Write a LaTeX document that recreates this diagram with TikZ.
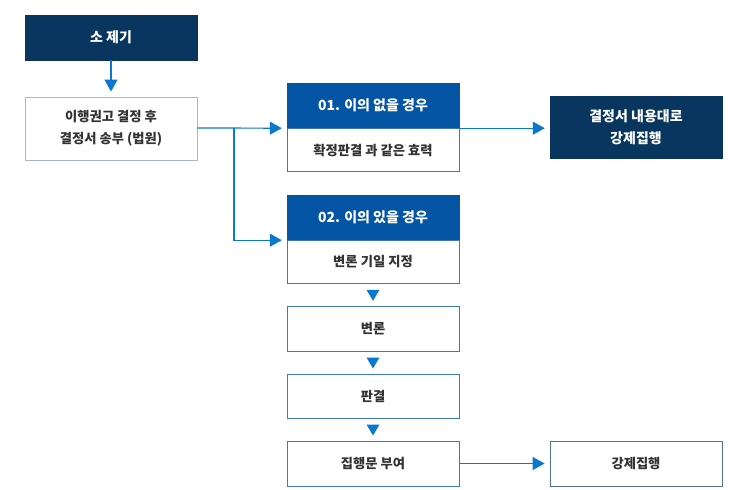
\documentclass[tikz,border=0pt]{standalone}
\usepackage{fontspec}
\setmainfont{Noto Sans CJK KR}
\usetikzlibrary{arrows.meta,calc}
\definecolor{navy}{HTML}{08365F}
\definecolor{mblue}{HTML}{0455A4}
\definecolor{lblue}{HTML}{0B78D0}
\definecolor{gborder}{HTML}{A9B8CA}
\definecolor{bborder}{HTML}{3F77B8}
\definecolor{txt}{HTML}{333333}
\tikzset{
  darkbox/.style={fill=navy,draw=navy,text=white,minimum width=172pt,font=\fontsize{14}{22}\selectfont\bfseries,align=center,inner sep=0pt},
  bluehead/.style={fill=mblue,draw=mblue,text=white,minimum width=172pt,minimum height=45pt,font=\fontsize{14}{22}\selectfont\bfseries,align=center,inner sep=0pt},
  whitebox/.style={fill=white,draw=bborder,line width=0.8pt,text=txt,minimum width=172pt,font=\fontsize{13.3}{22}\selectfont\bfseries,align=center,inner sep=0pt},
  conn/.style={draw=lblue,line width=1.2pt},
  arr/.style={conn,-{Triangle[length=12pt,width=13pt]},shorten >=5pt},
  tri/.style={fill=lblue,draw=none}
}
\begin{document}
\begin{tikzpicture}[x=1pt,y=-1pt]
\useasboundingbox (0,0) rectangle (745,490);
\node[darkbox,minimum height=45pt] (soje) at (111,37.5) {소 제기};
\node[whitebox,draw=gborder,minimum height=63pt] (ihaeng) at (111,128.5) {이행권고 결정 후\\결정서 송부 (법원)};
\node[bluehead] (h1) at (373,105.5) {01. 이의 없을 경우};
\node[whitebox,minimum height=43pt,anchor=north] (b1) at (h1.south) {확정판결 과 같은 효력};
\node[darkbox,minimum height=62pt] (gang1) at (636,127) {결정서 내용대로\\강제집행};
\node[bluehead] (h2) at (373,217.5) {02. 이의 있을 경우};
\node[whitebox,minimum height=43pt,anchor=north] (b2) at (h2.south) {변론 기일 지정};
\node[whitebox,minimum height=45pt] (byeon) at (373,328.5) {변론};
\node[whitebox,minimum height=44pt] (pan) at (373,396) {판결};
\node[whitebox,minimum height=45pt] (jip) at (373,463.5) {집행문 부여};
\node[whitebox,draw=navy!70,minimum height=45pt] (gang2) at (636,463.5) {강제집행};
% connectors
\draw[arr] (soje.south) -- (ihaeng.north);
\coordinate (br) at (234,128);
\draw[arr] (ihaeng.east |- br) -- (h1.south west);
\draw[arr] (br) |- (h2.south west);
\draw[arr] (h1.south east) -- (gang1.west |- h1.south east);
\draw[arr] (jip.east) -- (gang2.west);
% triangles
\foreach \a/\b in {b2/byeon,byeon/pan,pan/jip}{
  \path (\a.south) -- (\b.north) coordinate[midway] (m);
  \fill[tri] ($(m)+(-6.5,-5)$) -- ($(m)+(6.5,-5)$) -- ($(m)+(0,6)$) -- cycle;
}
\end{tikzpicture}
\end{document}
